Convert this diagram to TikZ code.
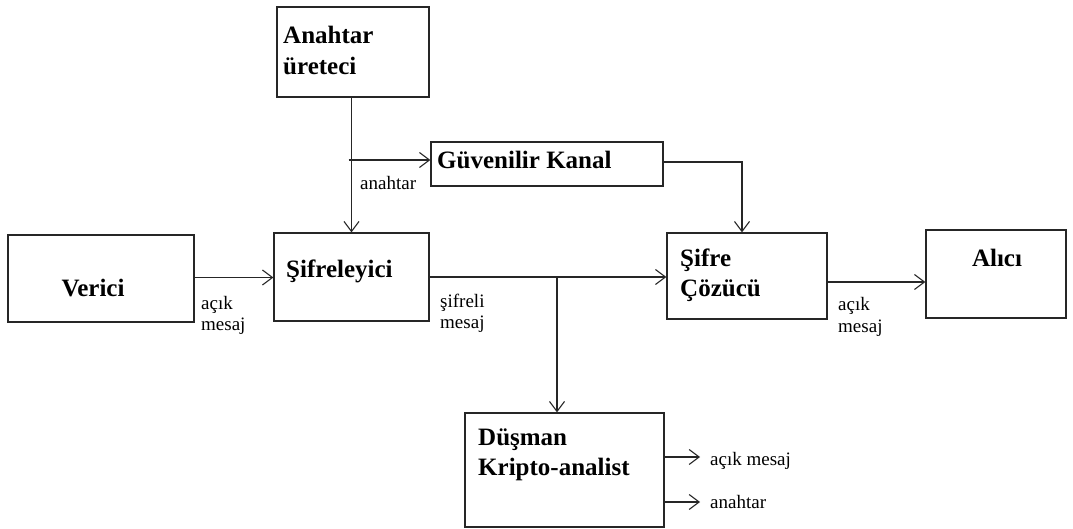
\documentclass[tikz,border=0pt]{standalone}
\usepackage{fontspec}
\setmainfont{Liberation Serif}
\usetikzlibrary{arrows.meta}

\tikzset{
  box/.style={draw=black!85, line width=1.3pt, fill=white, inner sep=0pt},
  arr/.style={draw=black!85, line width=1.1pt, -{Straight Barb[length=10pt,width=15pt,line width=1.1pt]}},
  btxt/.style={font=\bfseries\fontsize{25}{30}\selectfont, inner sep=0pt},
  stxt/.style={font=\fontsize{19}{22}\selectfont, inner sep=0pt, anchor=base west}
}

\begin{document}
\begin{tikzpicture}[x=1pt,y=-1pt]
\useasboundingbox[fill=white] (0,0) rectangle (1073,529);

% blocks
\node[box, minimum width=152pt, minimum height=90pt]  (gen)  at (353,52)    {};
\node[box, minimum width=232pt, minimum height=44pt]  (chan) at (547,164)   {};
\node[box, minimum width=186pt, minimum height=87pt]  (src)  at (101,278.5) {};
\node[box, minimum width=155pt, minimum height=88pt]  (enc)  at (351.5,277) {};
\node[box, minimum width=160pt, minimum height=86pt]  (dec)  at (747,276)   {};
\node[box, minimum width=140pt, minimum height=88pt]  (dst)  at (996,274)   {};
\node[box, minimum width=199pt, minimum height=114pt] (spy)  at (564.5,470) {};

% block titles
\node[btxt, anchor=base west] (gen-a) at (283,44)  {Anahtar};
\node[btxt, anchor=base west] (gen-b) at (283,75)  {üreteci};
\node[btxt, anchor=base west] (chan-t) at (437,169) {Güvenilir Kanal};
\node[btxt, anchor=base]      (src-t) at (93,297)  {Verici};
\node[btxt, anchor=base west] (enc-t) at (286,277) {Şifreleyici};
\node[btxt, anchor=base west] (dec-a) at (680,267) {Şifre};
\node[btxt, anchor=base west] (dec-b) at (680,296) {Çözücü};
\node[btxt, anchor=base]      (dst-t) at (997,267) {Alıcı};
\node[btxt, anchor=base west] (spy-a) at (478,445) {Düşman};
\node[btxt, anchor=base west] (spy-b) at (478,475) {Kripto-analist};

% junctions and free ends
\coordinate (kb)  at (351.5,160);
\coordinate (tap) at (557,277);
\coordinate (o1)  at (700,457);
\coordinate (o2)  at (700,502);

% connectors
\draw[arr] (enc.north |- gen.south) -- (enc.north);
\draw[arr] ([xshift=-3pt]kb) -- (kb -| chan.west);
\draw[arr] ([yshift=2pt]chan.east) -| ([xshift=-5pt]dec.north);
\draw[arr] ([yshift=1pt]src.east) -- ([yshift=1pt]src.east -| enc.west);
\draw[arr] (enc.east) -- (enc.east -| dec.west);
\draw[arr] (tap) -- (tap |- spy.north);
\draw[arr] ([yshift=-6pt]dec.east) -- ([yshift=-6pt]dec.east -| dst.west);
\draw[arr] (spy.east |- o1) -- (o1);
\draw[arr] (spy.east |- o2) -- (o2);

% connector labels
\node[stxt] (l-key)  at (360,190) {anahtar};
\node[stxt] (l-p1a)  at (201,309) {açık};
\node[stxt] (l-p1b)  at (201,330) {mesaj};
\node[stxt] (l-c1a)  at (440,307) {şifreli};
\node[stxt] (l-c1b)  at (440,328) {mesaj};
\node[stxt] (l-p2a)  at (838,310) {açık};
\node[stxt] (l-p2b)  at (838,332) {mesaj};
\node[stxt] (l-o1)   at (710,465) {açık mesaj};
\node[stxt] (l-o2)   at (710,508) {anahtar};
\end{tikzpicture}
\end{document}
